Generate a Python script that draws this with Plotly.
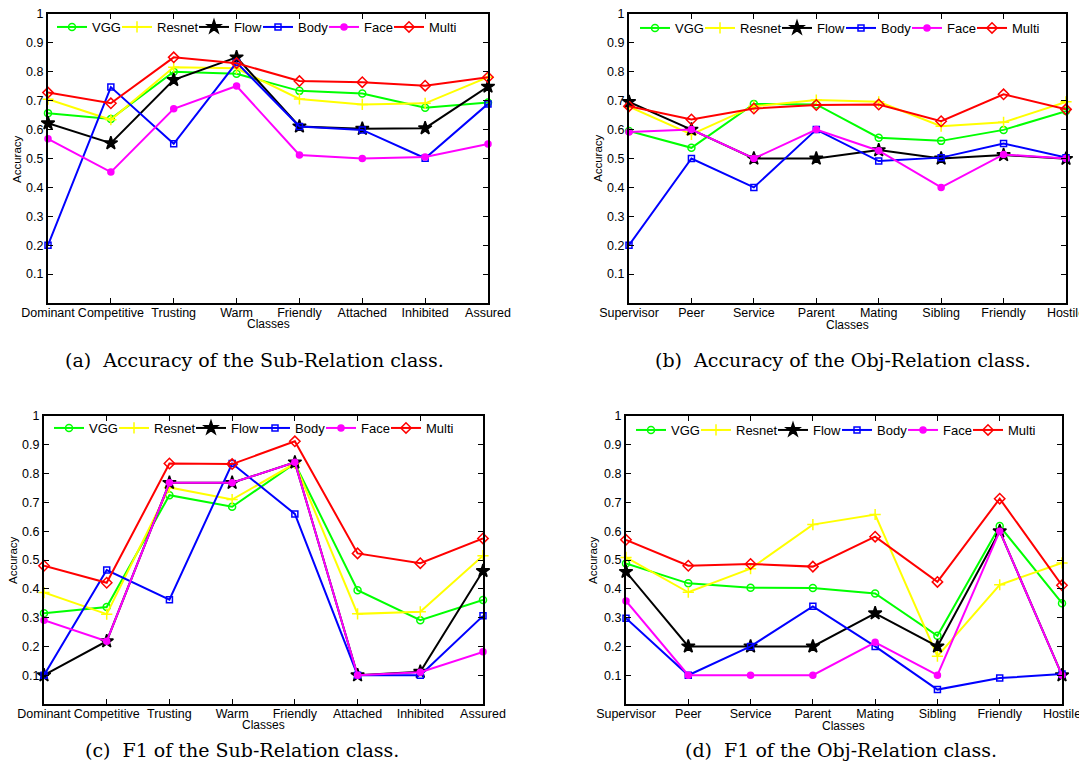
import plotly.graph_objects as go

# ---------------- data ----------------
sub_classes = ["Dominant", "Competitive", "Trusting", "Warm", "Friendly", "Attached", "Inhibited", "Assured"]
obj_classes = ["Supervisor", "Peer", "Service", "Parent", "Mating", "Sibling", "Friendly", "Hostile"]
methods = ["VGG", "Resnet", "Flow", "Body", "Face", "Multi"]

# (a) Accuracy, Sub-Relation
acc_sub_vgg    = [0.657, 0.637, 0.800, 0.793, 0.734, 0.725, 0.676, 0.694]
acc_sub_resnet = [0.705, 0.634, 0.816, 0.812, 0.706, 0.687, 0.691, 0.781]
acc_sub_flow   = [0.622, 0.553, 0.772, 0.850, 0.611, 0.603, 0.605, 0.749]
acc_sub_body   = [0.200, 0.747, 0.551, 0.832, 0.611, 0.599, 0.501, 0.689]
acc_sub_face   = [0.568, 0.453, 0.672, 0.751, 0.512, 0.500, 0.505, 0.550]
acc_sub_multi  = [0.728, 0.691, 0.850, 0.830, 0.768, 0.764, 0.752, 0.781]

# (b) Accuracy, Obj-Relation
acc_obj_vgg    = [0.595, 0.537, 0.689, 0.687, 0.572, 0.561, 0.599, 0.664]
acc_obj_resnet = [0.679, 0.583, 0.681, 0.702, 0.696, 0.612, 0.625, 0.696]
acc_obj_flow   = [0.696, 0.600, 0.500, 0.500, 0.529, 0.500, 0.512, 0.499]
acc_obj_body   = [0.200, 0.500, 0.400, 0.600, 0.491, 0.503, 0.552, 0.503]
acc_obj_face   = [0.592, 0.600, 0.500, 0.600, 0.527, 0.400, 0.514, 0.500]
acc_obj_multi  = [0.681, 0.635, 0.673, 0.685, 0.687, 0.629, 0.722, 0.670]

# (c) F1, Sub-Relation
f1_sub_vgg    = [0.315, 0.337, 0.725, 0.685, 0.835, 0.395, 0.291, 0.361]
f1_sub_resnet = [0.387, 0.312, 0.752, 0.710, 0.835, 0.313, 0.320, 0.515]
f1_sub_flow   = [0.100, 0.218, 0.768, 0.768, 0.839, 0.100, 0.112, 0.462]
f1_sub_body   = [0.100, 0.465, 0.362, 0.835, 0.660, 0.100, 0.100, 0.306]
f1_sub_face   = [0.291, 0.218, 0.768, 0.768, 0.839, 0.100, 0.110, 0.181]
f1_sub_multi  = [0.480, 0.421, 0.835, 0.833, 0.912, 0.523, 0.489, 0.575]

# (d) F1, Obj-Relation
f1_obj_vgg    = [0.488, 0.419, 0.404, 0.403, 0.384, 0.237, 0.618, 0.350]
f1_obj_resnet = [0.509, 0.388, 0.470, 0.623, 0.658, 0.166, 0.414, 0.490]
f1_obj_flow   = [0.459, 0.200, 0.200, 0.200, 0.315, 0.200, 0.600, 0.100]
f1_obj_body   = [0.298, 0.100, 0.200, 0.339, 0.200, 0.050, 0.090, 0.104]
f1_obj_face   = [0.358, 0.100, 0.100, 0.100, 0.214, 0.100, 0.600, 0.100]
f1_obj_multi  = [0.570, 0.480, 0.486, 0.477, 0.581, 0.424, 0.713, 0.412]

y_ticks = [0.1, 0.2, 0.3, 0.4, 0.5, 0.6, 0.7, 0.8, 0.9, 1.0]
y_tick_text = ["0.1", "0.2", "0.3", "0.4", "0.5", "0.6", "0.7", "0.8", "0.9", "1"]

captions = ["(a)  Accuracy of the Sub-Relation class.",
            "(b)  Accuracy of the Obj-Relation class.",
            "(c)  F1 of the Sub-Relation class.",
            "(d)  F1 of the Obj-Relation class."]

# ---------------- styles ----------------
PAGE_MARGIN = 8                      # default body margin of the html page
W, H = 1087 - PAGE_MARGIN, 775 - PAGE_MARGIN


def fx(px):
    return (px - PAGE_MARGIN) / W


def fy(py):
    return 1 - (py - PAGE_MARGIN) / H


colors = {"VGG": "#00ff00", "Resnet": "#ffff00", "Flow": "#000000",
          "Body": "#0000ff", "Face": "#ff00ff", "Multi": "#ff0000"}
symbols = {"VGG": "circle-open", "Resnet": "cross-thin", "Flow": "star",
           "Body": "square-open", "Face": "circle", "Multi": "diamond-open"}
sizes = {"VGG": 7, "Resnet": 8, "Flow": 10, "Body": 6, "Face": 6, "Multi": 8}
legend_widths = {"VGG": 20, "Resnet": 32, "Flow": 19, "Body": 21, "Face": 20, "Multi": 32}

panels = [
    (sub_classes, [acc_sub_vgg, acc_sub_resnet, acc_sub_flow, acc_sub_body, acc_sub_face, acc_sub_multi]),
    (obj_classes, [acc_obj_vgg, acc_obj_resnet, acc_obj_flow, acc_obj_body, acc_obj_face, acc_obj_multi]),
    (sub_classes, [f1_sub_vgg, f1_sub_resnet, f1_sub_flow, f1_sub_body, f1_sub_face, f1_sub_multi]),
    (obj_classes, [f1_obj_vgg, f1_obj_resnet, f1_obj_flow, f1_obj_body, f1_obj_face, f1_obj_multi]),
]

# plot boxes in screen pixels: (left, right, top, bottom)
boxes = [(48, 488, 14, 303), (629, 1066, 14, 303), (44, 483, 416, 704), (626, 1062, 416, 704)]
legend_pos = [(52, 27), (635, 28), (49, 428), (631, 430)]
ylabel_pos = [(17, 159), (598, 158), (13, 560), (593, 560)]
xlabel_pos = [(268, 324), (847, 325), (263, 725), (843, 726)]
caption_pos = [(254, 360), (843, 360), (242, 750), (841, 750)]

fig = go.Figure()
sans = "Liberation Sans, Arial, sans-serif"
axis_font = dict(family=sans, size=12.5, color="black")
annotations = []
layout = {}

for i, (cats, series) in enumerate(panels):
    n = "" if i == 0 else str(i + 1)
    leg = "legend" + n
    for m, vals in zip(methods, series):
        fig.add_trace(go.Scatter(
            x=cats, y=vals, name=m, mode="lines+markers",
            xaxis="x" + n, yaxis="y" + n, legend=leg, cliponaxis=False,
            legendwidth=legend_widths[m],
            line=dict(color=colors[m], width=2),
            marker=dict(symbol=symbols[m], size=sizes[m], color=colors[m],
                        line=dict(color=colors[m], width=1.5)),
        ))
    l, r, t, b = boxes[i]
    layout["xaxis" + n] = dict(
        domain=[fx(l), fx(r)], anchor="y" + n, type="category",
        range=[0, len(cats) - 1], showgrid=False, zeroline=False,
        showline=True, linecolor="black", linewidth=2, mirror="ticks",
        ticks="inside", ticklen=5, tickwidth=1, tickcolor="black",
        tickangle=0, automargin=False, ticklabelstandoff=-3,
        ticklabeloverflow="allow",
        tickfont=axis_font, fixedrange=True)
    layout["yaxis" + n] = dict(
        domain=[fy(b), fy(t)], anchor="x" + n, range=[0, 1],
        tickvals=y_ticks, ticktext=y_tick_text, showgrid=False, zeroline=False,
        showline=True, linecolor="black", linewidth=2, mirror="ticks",
        ticks="inside", ticklen=5, tickwidth=1, tickcolor="black",
        automargin=False, ticklabeloverflow="allow",
        tickfont=axis_font, fixedrange=True)
    lx, ly = legend_pos[i]
    layout[leg] = dict(
        orientation="h", x=fx(lx), y=fy(ly), xanchor="left", yanchor="middle",
        bgcolor="rgba(0,0,0,0)", borderwidth=0, itemwidth=30,
        font=dict(family=sans, size=13, color="black"),
        tracegroupgap=0, itemclick=False, itemdoubleclick=False)
    ax, ay = ylabel_pos[i]
    annotations.append(dict(text="Accuracy", x=fx(ax), y=fy(ay), xref="paper", yref="paper",
                            textangle=-90, showarrow=False, xanchor="center", yanchor="middle",
                            font=dict(family=sans, size=11.5, color="black")))
    cx, cy = xlabel_pos[i]
    annotations.append(dict(text="Classes", x=fx(cx), y=fy(cy), xref="paper", yref="paper",
                            showarrow=False, xanchor="center", yanchor="middle",
                            font=dict(family=sans, size=12, color="black")))
    px, py = caption_pos[i]
    annotations.append(dict(text=captions[i], x=fx(px), y=fy(py), xref="paper", yref="paper",
                            showarrow=False, xanchor="center", yanchor="middle",
                            font=dict(family="DejaVu Serif, serif", size=19, color="black")))

fig.update_layout(
    width=W, height=H, margin=dict(l=0, r=0, t=0, b=0, autoexpand=False),
    paper_bgcolor="white", plot_bgcolor="white",
    annotations=annotations, **layout)

fig.write_html("out.html")
